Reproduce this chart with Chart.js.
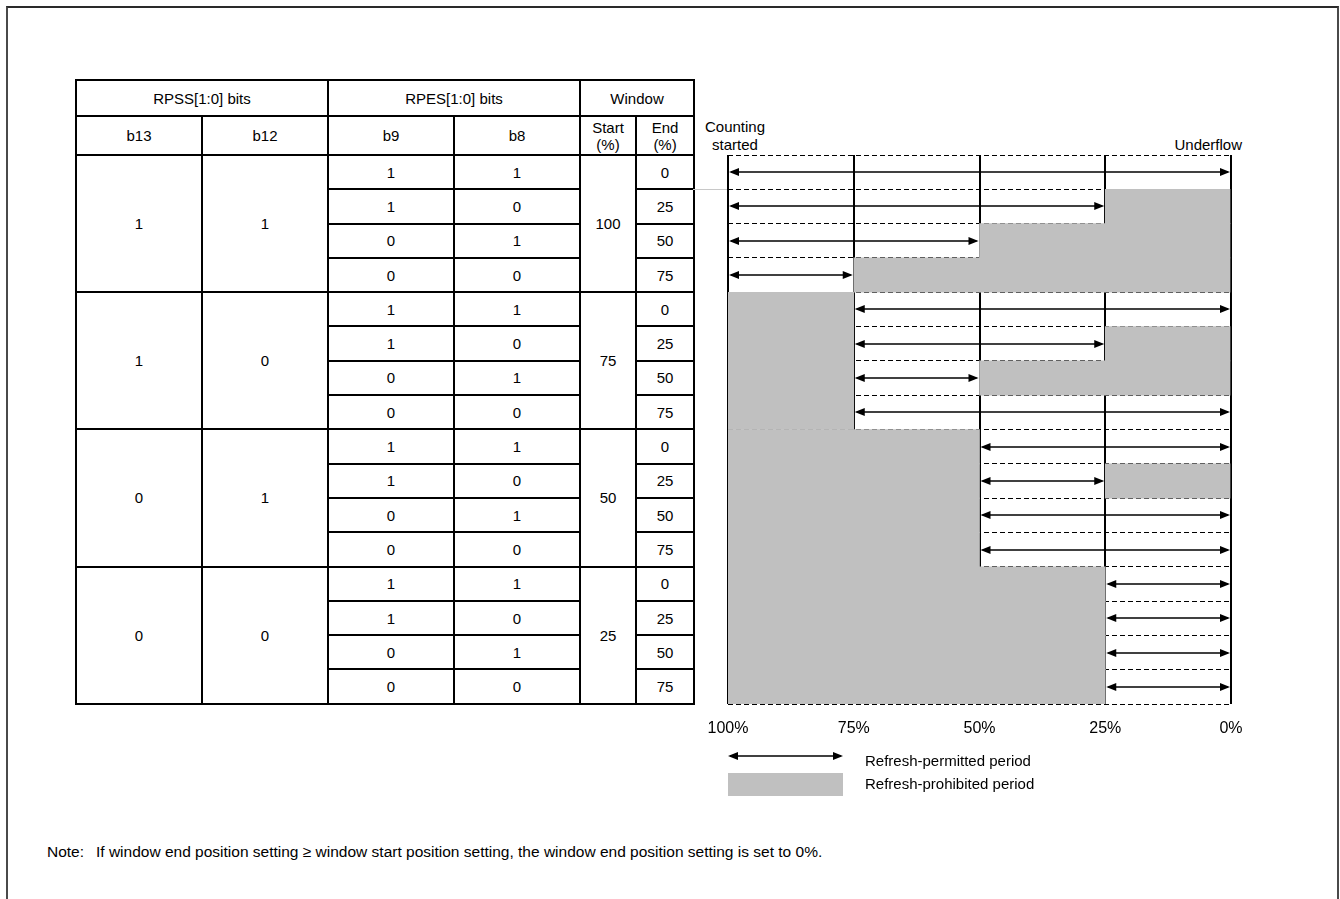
<!DOCTYPE html>
<html>
<head>
<meta charset="utf-8">
<script src="https://cdn.jsdelivr.net/npm/chart.js@4.4.1/dist/chart.umd.min.js"></script>
<style>
  html, body { margin:0; padding:0; background:#fff; width:1340px; height:899px; overflow:hidden; }
  body { position:relative; font-family:"Liberation Sans", Arial, sans-serif; color:#000; }
  #frame { position:absolute; left:6px; top:6px; width:1329px; height:1000px;
           border-top:2px solid #2a2a2a; border-left:2px solid #4a4a4a; border-right:2px solid #4a4a4a; }
  #tbl { position:absolute; left:75px; top:79px; border-collapse:collapse; table-layout:fixed; width:618px; }
  #tbl td { border:2px solid #000; text-align:center; vertical-align:middle; font-size:15px; padding:0; line-height:17px; }
  #chartBox { position:absolute; left:690px; top:100px; width:620px; height:660px; }
  .lbl { position:absolute; font-size:15px; white-space:nowrap; line-height:18px; }
  #connector { position:absolute; left:693px; top:189px; width:35px; height:1px; background:#c8c8c8; }
</style>
</head>
<body>
<div id="frame"></div>
<table id="tbl"></table>
<div id="connector"></div>
<div class="lbl" style="left:698px; top:118px; width:74px; text-align:center;">Counting<br>started</div>
<div class="lbl" style="left:1100px; top:136px; width:142px; text-align:right;">Underflow</div>
<div id="chartBox"><canvas id="c"></canvas></div>

<svg style="position:absolute; left:720px; top:745px;" width="130" height="60">
  <line x1="10" y1="11" x2="121" y2="11" stroke="#000" stroke-width="1.5"/>
  <polygon points="8,11 18,7 18,15" fill="#000"/>
  <polygon points="123,11 113,7 113,15" fill="#000"/>
  <rect x="8" y="28" width="115" height="23" fill="#c0c0c0"/>
</svg>
<div class="lbl" style="left:865px; top:752px;">Refresh-permitted period</div>
<div class="lbl" style="left:865px; top:775px;">Refresh-prohibited period</div>

<div class="lbl" style="left:47px; top:843px; font-size:15.5px;">Note:</div>
<div class="lbl" style="left:96px; top:843px; font-size:15.5px;">If window end position setting ≥ window start position setting, the window end position setting is set to 0%.</div>

<script>
// ---- table data ----
const rpssHeader = 'RPSS[1:0] bits';
const rpesHeader = 'RPES[1:0] bits';
const windowHeader = 'Window';
const rpssBits = [['1','1'],['1','0'],['0','1'],['0','0']];   // b13, b12
const rpesBits = [['1','1'],['1','0'],['0','1'],['0','0']];   // b9, b8
const windowStart = [100, 75, 50, 25];
const windowEnd = [0, 25, 50, 75];

// ---- chart data (one row per table row) ----
const rowLabels = ['100/0','100/25','100/50','100/75','75/0','75/25','75/50','75/75',
                   '50/0','50/25','50/50','50/75','25/0','25/25','25/50','25/75'];
const permitted = [[100,0],[100,25],[100,50],[100,75],[75,0],[75,25],[75,50],[75,0],
                   [50,0],[50,25],[50,0],[50,0],[25,0],[25,0],[25,0],[25,0]];
const prohibitedBefore = [null,null,null,null,[100,75],[100,75],[100,75],[100,75],
                          [100,50],[100,50],[100,50],[100,50],[100,25],[100,25],[100,25],[100,25]];
const prohibitedAfter = [null,[25,0],[50,0],[75,0],null,[25,0],[50,0],null,
                         null,[25,0],null,null,null,null,null,null];
const xTicks = [100, 75, 50, 25, 0];

// ---- build table ----
const tbl = document.getElementById('tbl');
const colW = [126,126,126,126,56,58];
let html = '<colgroup>' + colW.map(w => `<col style="width:${w}px">`).join('') + '</colgroup>';
html += `<tr style="height:36px"><td colspan="2">${rpssHeader}</td><td colspan="2">${rpesHeader}</td><td colspan="2">${windowHeader}</td></tr>`;
html += `<tr style="height:39px"><td>b13</td><td>b12</td><td>b9</td><td>b8</td><td>Start<br>(%)</td><td>End<br>(%)</td></tr>`;
for (let g = 0; g < 4; g++) {
  for (let r = 0; r < 4; r++) {
    html += '<tr style="height:34.3px">';
    if (r === 0) html += `<td rowspan="4">${rpssBits[g][0]}</td><td rowspan="4">${rpssBits[g][1]}</td>`;
    html += `<td>${rpesBits[r][0]}</td><td>${rpesBits[r][1]}</td>`;
    if (r === 0) html += `<td rowspan="4">${windowStart[g]}</td>`;
    html += `<td>${windowEnd[r]}</td></tr>`;
  }
}
tbl.innerHTML = html;

// ---- arrows plugin ----
const arrowPlugin = {
  id: 'arrows',
  afterDraw(chart) {
    const ctx = chart.ctx;
    const xs = chart.scales.x, ys = chart.scales.y;
    const ds = chart.data.datasets.find(d => d.label === 'Refresh-permitted period');
    ctx.save();
    ctx.strokeStyle = '#000';
    ctx.fillStyle = '#000';
    ctx.lineWidth = 1.5;
    ds.data.forEach((pair, i) => {
      if (!pair) return;
      const y = Math.round(ys.getPixelForValue(i));
      const xa = xs.getPixelForValue(pair[0]);
      const xb = xs.getPixelForValue(pair[1]);
      const left = Math.min(xa, xb) + 1, right = Math.max(xa, xb) - 1;
      const hl = 10, hw = 4;
      ctx.beginPath();
      ctx.moveTo(left + 2, y); ctx.lineTo(right - 2, y); ctx.stroke();
      ctx.beginPath();
      ctx.moveTo(left, y); ctx.lineTo(left + hl, y - hw); ctx.lineTo(left + hl, y + hw); ctx.closePath(); ctx.fill();
      ctx.beginPath();
      ctx.moveTo(right, y); ctx.lineTo(right - hl, y - hw); ctx.lineTo(right - hl, y + hw); ctx.closePath(); ctx.fill();
    });
    ctx.restore();
  }
};

new Chart(document.getElementById('c'), {
  type: 'bar',
  data: {
    labels: rowLabels,
    datasets: [
      { label: 'Refresh-prohibited period', data: prohibitedBefore, backgroundColor: '#c0c0c0', borderWidth: 0 },
      { label: 'Refresh-prohibited period (end)', data: prohibitedAfter, backgroundColor: '#c0c0c0', borderWidth: 0 },
      { label: 'Refresh-permitted period', data: permitted, backgroundColor: 'rgba(0,0,0,0)', borderWidth: 0 }
    ]
  },
  options: {
    indexAxis: 'y',
    responsive: true,
    maintainAspectRatio: false,
    animation: false,
    grouped: false,
    barPercentage: 1,
    categoryPercentage: 1,
    layout: { padding: { left: 38, right: 79, top: 55, bottom: 16 } },
    plugins: { legend: { display: false }, tooltip: { enabled: false } },
    scales: {
      x: {
        type: 'linear', min: 0, max: 100, reverse: true, z: 1,
        afterBuildTicks: s => { s.ticks = xTicks.map(v => ({ value: v })); },
        afterFit: s => { s.height = 40; },
        ticks: { callback: v => v + '%', color: '#000', padding: 15,
                 font: { family: '"Liberation Sans", Arial, sans-serif', size: 16 } },
        grid: { color: '#000', lineWidth: 2, drawTicks: false },
        border: { display: false }
      },
      y: {
        type: 'category', z: 1,
        afterFit: s => { s.width = 0; },
        ticks: { display: false },
        grid: { color: '#000', lineWidth: 1, drawTicks: false, offset: true },
        border: { display: false, dash: [5, 3] }
      }
    }
  },
  plugins: [arrowPlugin]
});
</script>
</body>
</html>
